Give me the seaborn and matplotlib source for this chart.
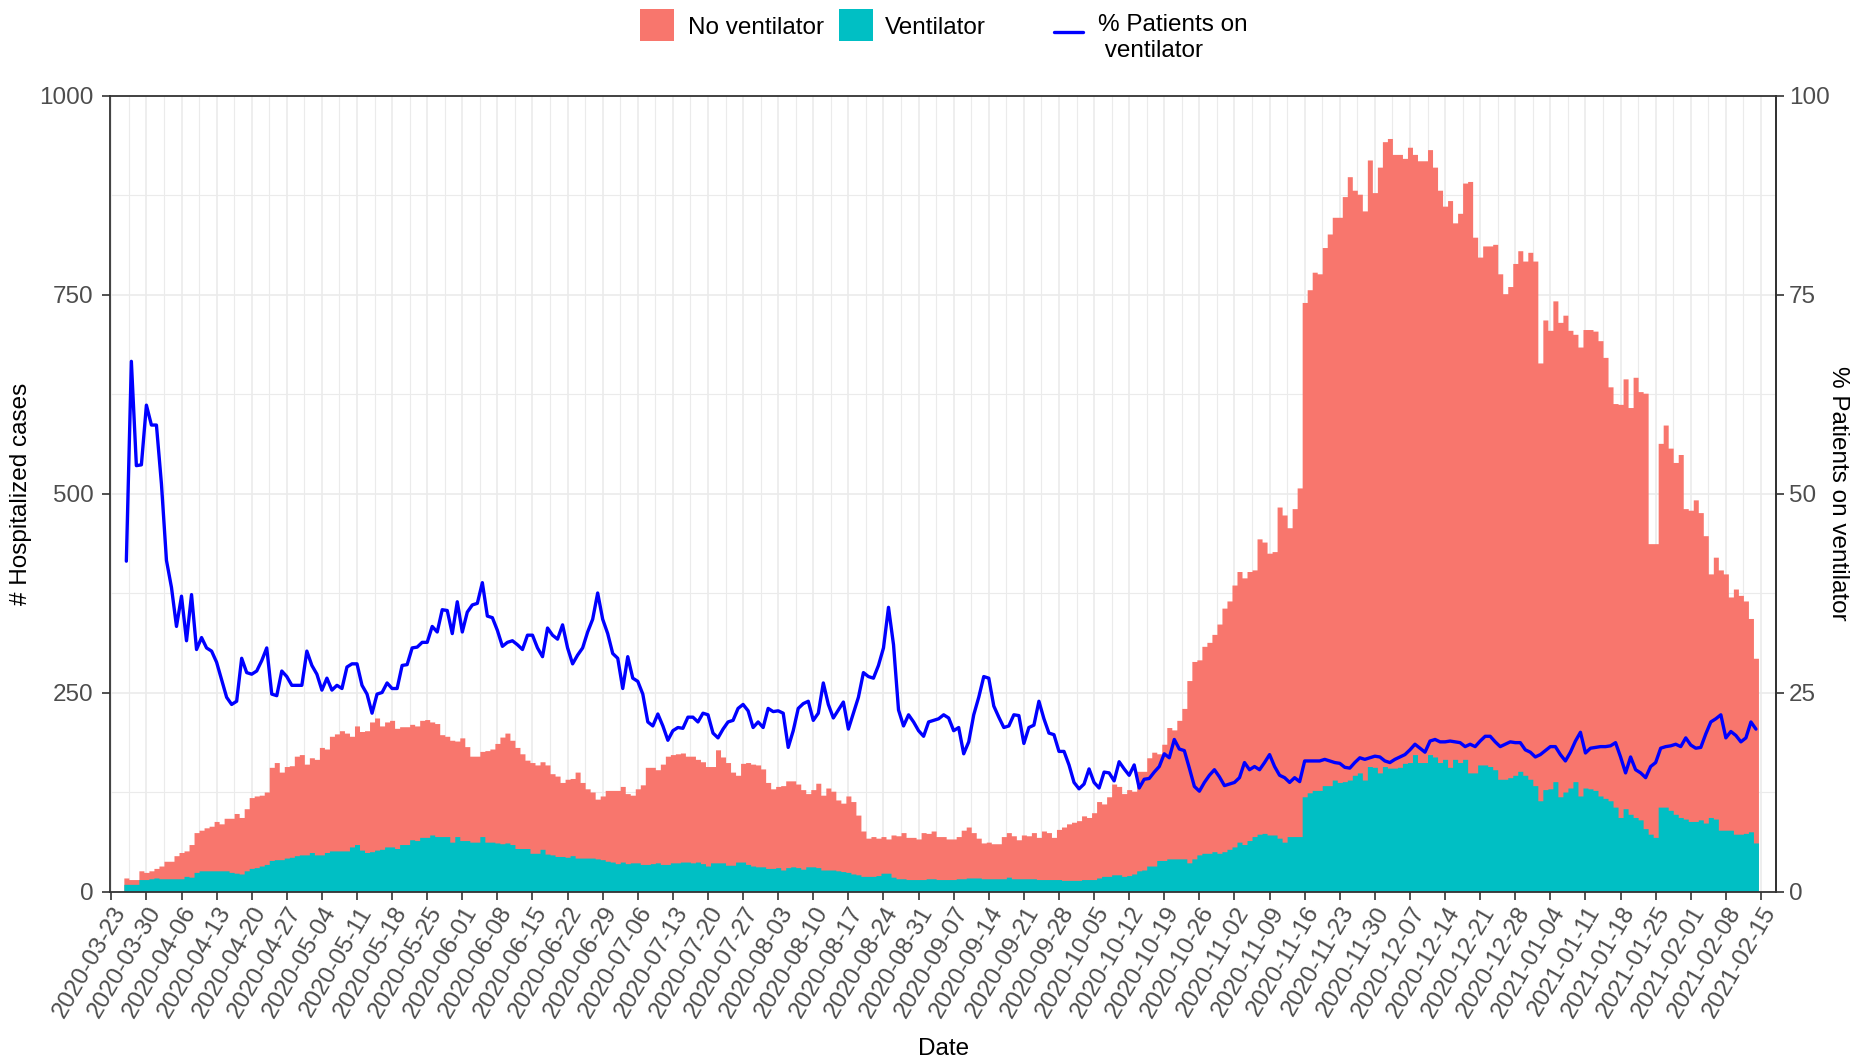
import numpy as np
import pandas as pd
import matplotlib
matplotlib.use("Agg")
import matplotlib.pyplot as plt
import matplotlib.dates as mdates
from matplotlib.patches import Rectangle
from matplotlib.lines import Line2D
import seaborn as sns

# ---------------- data ----------------
start_date = "2020-03-26"

total_hospitalized = [
    17, 15, 15, 26, 24, 26, 29, 32, 38, 38, 45, 49, 51, 59, 74, 77, 80, 82, 88, 85,
    92, 92, 98, 93, 104, 118, 120, 121, 125, 156, 162, 150, 157, 158, 170, 172, 160, 168, 166, 181,
    179, 195, 198, 202, 199, 195, 208, 201, 202, 213, 218, 208,
    213, 215, 205, 207, 207, 210, 208, 215, 216, 213, 211, 197, 195, 190, 189, 193, 182, 170,
    170, 176, 177, 179, 186, 194, 199, 190, 181, 173, 165, 162, 159, 163, 159, 148, 145, 137,
    141, 142, 150, 137, 129, 125, 116, 120, 127, 127, 127, 132, 123, 121, 129, 134, 156, 156, 153,
    160, 170, 172, 173, 174, 170, 170, 166, 163, 157, 157, 178, 169, 162, 150, 146, 161, 162,
    160, 159, 154, 137, 129, 132, 133, 139, 139, 135, 128, 123, 128, 136, 121, 130, 126, 115,
    111, 120, 113, 96, 76, 67, 69, 67, 69, 66, 71, 70, 74, 68, 68, 66, 74, 73, 76,
    69, 69, 66, 66, 69, 77, 81, 74, 67, 61, 62, 60, 60, 69, 74, 70, 65, 71, 70, 74,
    68, 76, 74, 68, 78, 81, 85, 87, 89, 95, 93, 99, 113, 110, 119, 135, 132, 123, 128, 126,
    151, 151, 168, 175, 173, 185, 206, 203, 215, 230, 265, 289, 291, 308, 313,
    323, 336, 356, 365, 385, 402, 394, 402, 404, 443, 439, 425, 427, 483, 473, 457, 481, 507,
    740, 756, 778, 776, 809, 826, 847, 847, 873, 898, 881, 876, 855, 919, 878, 910, 942, 946,
    926, 926, 921, 935, 926, 918, 918, 932, 910, 881, 861, 868, 840, 852, 890, 892, 822, 797,
    811, 811, 813, 776, 751, 760, 789, 805, 792, 803, 792, 664, 718, 705, 742, 715, 724, 705,
    700, 684, 706, 706, 704, 692, 671, 634, 613, 612, 644, 608, 646, 628, 626, 437, 437, 563,
    586, 557, 539, 549, 481, 479, 492, 476, 447, 399, 420, 404, 399, 370, 380, 372, 365, 343, 293,
]

ventilator = [
    9, 9, 9, 15, 15, 16, 17, 16, 16, 16, 16, 16, 19, 18, 24, 26, 26, 26, 26, 26,
    26, 24, 23, 22, 26, 29, 30, 32, 34, 39, 40, 40, 42, 43, 45, 46, 46, 49, 46, 46,
    49, 51, 51, 51, 51, 56, 59, 52, 49, 50, 52, 53,
    56, 56, 54, 59, 59, 65, 64, 68, 68, 71, 69, 69, 69, 62, 69, 64, 64, 62, 62, 69,
    62, 62, 61, 60, 61, 59, 54, 54, 54, 48, 48, 53, 47, 46, 44, 44, 43, 45, 42, 42,
    42, 42, 41, 40, 38, 37, 35, 37, 35, 36, 36, 34, 34, 35, 36,
    34, 34, 36, 36, 37, 37, 36, 37, 35, 32, 36, 36, 36, 33, 33, 37, 37, 34, 32, 31,
    31, 29, 29, 30, 27, 30, 31, 30, 28, 31, 31, 30, 27, 27, 27, 26, 25, 24, 22, 21,
    19, 19, 19, 20, 23, 23, 18, 16, 16, 15, 15, 15, 15, 16, 16,
    15, 15, 15, 15, 16, 16, 17, 17, 17, 16, 16, 16, 16, 16, 18, 16, 16, 16, 16, 16,
    15, 15, 15, 15, 15, 14, 14, 14, 14, 15, 15, 15, 17, 19, 19, 21, 21, 19, 20, 22,
    26, 27, 32, 32, 39, 39, 41, 41, 41, 41, 36, 41, 46, 48, 48,
    50, 48, 50, 53, 56, 62, 59, 64, 69, 72, 73, 71, 71, 67, 62, 69, 69, 69,
    119, 124, 127, 127, 133, 133, 140, 137, 138, 140, 146, 149, 140, 157, 156, 149, 157, 155,
    155, 156, 161, 162, 172, 162, 162, 172, 169, 162, 166, 156, 166, 162, 166, 149, 149, 159,
    159, 157, 153, 141, 141, 143, 146, 151, 146, 141, 133, 114, 128, 129, 138, 119, 125, 130,
    138, 120, 130, 129, 127, 120, 117, 114, 106, 93, 104, 97, 93, 90, 79, 72, 68, 106,
    106, 102, 97, 93, 91, 88, 88, 90, 86, 93, 91, 77, 77, 77, 72, 72, 73, 75, 61,
]

pct_on_ventilator = [
    41.5, 66.6, 53.5, 53.6, 61.1, 58.6, 58.6, 51.2, 41.6, 38.2, 33.3, 37.1, 31.5, 37.3, 30.4, 31.9,
    30.6, 30.2, 28.8, 26.6, 24.4, 23.5, 23.9, 29.3, 27.5, 27.3, 27.7, 29.0, 30.6, 24.8, 24.6, 27.7,
    27.0, 25.9, 25.9, 25.9, 30.2, 28.4, 27.3, 25.3, 26.8, 25.3, 25.9, 25.5, 28.2, 28.6, 28.6, 25.9,
    24.8, 22.4, 24.8, 25.0,
    26.2, 25.5, 25.5, 28.4, 28.5, 30.6, 30.7, 31.3, 31.3, 33.3, 32.6, 35.4, 35.3, 32.4, 36.4, 32.6,
    35.1, 36.0, 36.2, 38.8, 34.6, 34.4, 32.8, 30.8, 31.3, 31.5, 31.0, 30.4, 32.2, 32.2, 30.6, 29.5,
    33.1, 32.2, 31.7, 33.5, 30.6, 28.6, 29.7, 30.6, 32.6, 34.2, 37.5, 34.2, 32.4, 29.9, 29.3, 25.5,
    29.5, 26.8, 26.4, 24.8, 21.3, 20.8, 22.3,
    20.8, 19.0, 20.2, 20.6, 20.5, 21.9, 21.9, 21.3, 22.4, 22.2, 19.9, 19.3, 20.4, 21.3, 21.5, 23.0,
    23.5, 22.7, 20.6, 21.3, 20.6, 23.0, 22.6, 22.7, 22.4, 18.1, 20.2, 23.0, 23.6, 23.9, 21.5, 22.4,
    26.2, 23.5, 21.8, 22.8, 23.8, 20.4, 22.4, 24.4, 27.5, 27.0, 26.8, 28.4, 30.6, 35.7, 31.0, 22.8,
    20.8, 22.2, 21.3, 20.2, 19.5, 21.3, 21.5,
    21.7, 22.2, 21.8, 20.2, 20.6, 17.3, 18.8, 22.2, 24.4, 27.0, 26.8, 23.3, 21.9, 20.6, 20.8, 22.2,
    22.1, 18.6, 20.6, 20.9, 23.9, 21.7, 19.9, 19.7, 17.6, 17.6, 15.9, 13.7, 12.9, 13.5, 15.4, 13.7,
    13.0, 15.0, 14.9, 13.9, 16.3, 15.4, 14.6, 15.9, 13.0, 14.1, 14.2, 15.0, 15.7, 17.3, 16.8, 19.1,
    17.9, 17.7, 15.5, 13.2, 12.6, 13.7, 14.6,
    15.3, 14.4, 13.3, 13.5, 13.7, 14.3, 16.2, 15.3, 15.7, 15.3, 16.2, 17.2, 15.7, 14.6, 14.3, 13.7,
    14.3, 13.8, 16.4, 16.4, 16.4, 16.4, 16.6, 16.4, 16.2, 16.1, 15.6, 15.5, 16.2, 16.8, 16.6, 16.8,
    17.0, 16.9, 16.4, 16.2, 16.6, 16.9, 17.2, 17.8, 18.5, 18.0, 17.5, 18.9, 19.1, 18.8, 18.8, 18.9,
    18.8, 18.7, 18.2, 18.5, 18.2, 18.9,
    19.5, 19.5, 18.8, 18.2, 18.5, 18.8, 18.7, 18.7, 17.8, 17.5, 16.9, 17.2, 17.7, 18.2, 18.2, 17.2,
    16.4, 17.5, 18.9, 20.0, 17.4, 18.0, 18.1, 18.2, 18.2, 18.3, 18.7, 16.9, 14.9, 16.9, 15.3, 14.9,
    14.3, 15.7, 16.2, 18.0, 18.2, 18.3, 18.5, 18.2, 19.3, 18.4, 18.0, 18.1, 19.8, 21.3, 21.7, 22.2,
    19.3, 20.1, 19.6, 18.8, 19.3, 21.3, 20.4,
]

tick_start = "2020-03-23"
tick_end = "2021-02-15"
left_ticks = [0, 250, 500, 750, 1000]
right_ticks = [0, 25, 50, 75, 100]

legend_labels = ["No ventilator", "Ventilator", "% Patients on\n ventilator"]

# ---------------- styling ----------------
PINK = "#F8766D"
TEAL = "#00BFC4"
BLUE = "#0000FF"
GRID = "#EBEBEB"
DARK = "#333333"
TICKTXT = "#4D4D4D"
FS = 17.5
LINE_W = 2.4

n = min(len(total_hospitalized), len(ventilator), len(pct_on_ventilator))
dates = pd.date_range(start_date, periods=n, freq="D")
df = pd.DataFrame({
    "date": dates,
    "total": np.array(total_hospitalized[:n], dtype=float),
    "vent": np.array(ventilator[:n], dtype=float),
    "pct": np.array(pct_on_ventilator[:n], dtype=float),
})
df["no_vent"] = df["total"] - df["vent"]
df["x"] = mdates.date2num(df["date"])

sns.set_theme(style="white")
plt.rcParams["font.family"] = ["Liberation Sans", "DejaVu Sans"]

W_PX, H_PX = 1866, 1061
fig = plt.figure(figsize=(W_PX / 100, H_PX / 100), dpi=100)
fig.patch.set_facecolor("white")

L_PX, R_PX, T_PX, B_PX = 110.3, 1776.0, 95.5, 891.5
ax = fig.add_axes([L_PX / W_PX, 1 - B_PX / H_PX, (R_PX - L_PX) / W_PX, (B_PX - T_PX) / H_PX])
ax.set_facecolor("white")

# stacked bars: total (pink = no ventilator on top) and ventilator (teal at bottom)
sns.histplot(data=df, x="x", weights="total", discrete=True, element="step",
             fill=True, color=PINK, alpha=1, linewidth=0, ax=ax)
sns.histplot(data=df, x="x", weights="vent", discrete=True, element="step",
             fill=True, color=TEAL, alpha=1, linewidth=0, ax=ax)

x0 = mdates.date2num(pd.Timestamp(tick_start))
ax.set_xlim(x0 - 0.2, x0 + 332.0)
ax.set_ylim(0, 1000)

tick_dates = pd.date_range(tick_start, tick_end, freq="7D")
tick_pos = mdates.date2num(tick_dates)
ax.set_xticks(tick_pos)
ax.set_xticklabels([d.strftime("%Y-%m-%d") for d in tick_dates], rotation=60,
                   ha="right", va="top", rotation_mode="anchor")
ax.set_xticks(tick_pos[:-1] + 3.5, minor=True)
ax.set_yticks(left_ticks)
ax.set_yticks([125, 375, 625, 875], minor=True)

ax.set_axisbelow(True)
ax.grid(which="major", color=GRID, linewidth=1.2)
ax.grid(which="minor", color=GRID, linewidth=0.8)

ax.tick_params(axis="both", which="major", direction="out", length=6, width=1.2,
               color=DARK, labelcolor=TICKTXT, labelsize=FS)
ax.tick_params(axis="y", which="major", pad=6, left=True)
ax.tick_params(axis="x", which="major", pad=2, bottom=True)
ax.tick_params(which="minor", length=0)

for s in ax.spines.values():
    s.set_visible(True)
    s.set_color(DARK)
    s.set_linewidth(1.3)

# secondary axis with the percentage line
ax2 = ax.twinx()
sns.lineplot(data=df, x="x", y="pct", color=BLUE, linewidth=LINE_W, ax=ax2)
ax2.set_ylim(0, 100)
ax2.set_yticks(right_ticks)
ax2.grid(False)
ax2.tick_params(axis="y", which="major", direction="out", length=6, width=1.2,
                color=DARK, labelcolor=TICKTXT, labelsize=FS, pad=3.5, right=True)
for s in ax2.spines.values():
    s.set_visible(False)
ax2.spines["right"].set_visible(True)
ax2.spines["right"].set_color(DARK)
ax2.spines["right"].set_linewidth(1.3)
ax2.set_xlim(ax.get_xlim())

# axis titles
ax.set_xlabel("Date", fontsize=FS, color="black", va="center")
ax.xaxis.set_label_coords(0.5, (B_PX - 1049) / (B_PX - T_PX))
ax.set_ylabel("# Hospitalized cases", fontsize=FS, color="black", va="center")
ax.yaxis.set_label_coords((21 - L_PX) / (R_PX - L_PX), 0.5)
ax2.set_ylabel("% Patients on ventilator", fontsize=FS, color="black", rotation=270, va="center")
ax2.yaxis.set_label_coords((1838 - L_PX) / (R_PX - L_PX), 0.5)

# legend at the top (drawn in figure pixel coordinates)
def fx(px):
    return px / W_PX

def fy(py):
    return 1 - py / H_PX

fig.patches.append(Rectangle((fx(640), fy(41)), 34 / W_PX, 32 / H_PX,
                             transform=fig.transFigure, facecolor=PINK, edgecolor="none"))
fig.text(fx(688), fy(28.5), legend_labels[0], fontsize=FS, color="black", ha="left", va="center")
fig.patches.append(Rectangle((fx(839), fy(41)), 34 / W_PX, 32 / H_PX,
                             transform=fig.transFigure, facecolor=TEAL, edgecolor="none"))
fig.text(fx(885), fy(28.5), legend_labels[1], fontsize=FS, color="black", ha="left", va="center")
fig.lines.append(Line2D([fx(1054), fx(1083)], [fy(32), fy(32)], transform=fig.transFigure,
                        color=BLUE, linewidth=LINE_W))
fig.text(fx(1098), fy(38), legend_labels[2], fontsize=FS, color="black", ha="left",
         va="center", linespacing=1.25)

fig.savefig("out.png", dpi=100, facecolor="white")
